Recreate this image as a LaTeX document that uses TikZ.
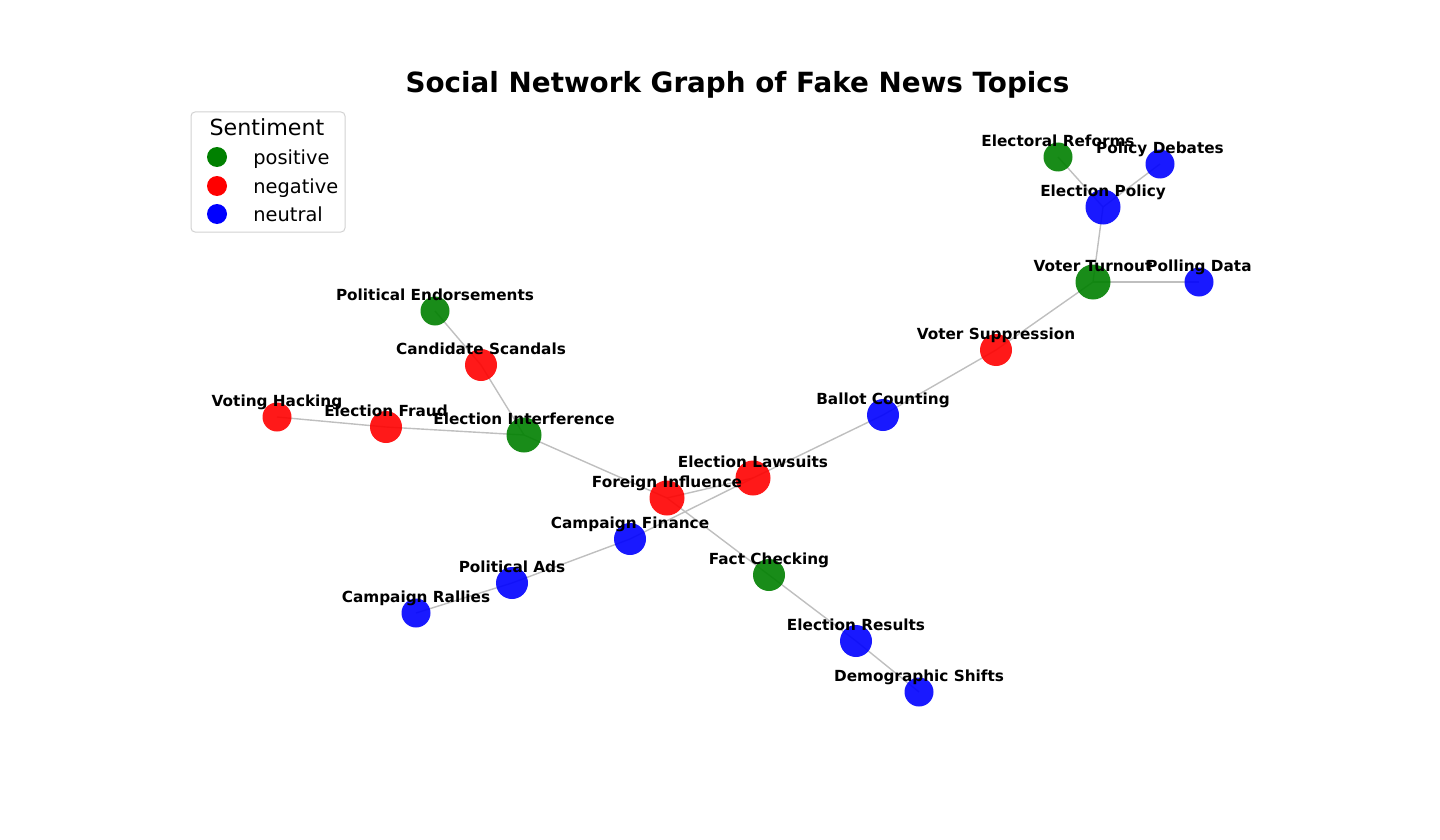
\documentclass[tikz,border=0pt]{standalone}
\usepackage{fontspec}
\setmainfont{DejaVu Sans}
\usetikzlibrary{backgrounds,calc}
\definecolor{pos}{RGB}{0,128,0}
\definecolor{neg}{RGB}{255,0,0}
\definecolor{neu}{RGB}{0,0,255}
\definecolor{edgegray}{RGB}{191,191,191}
\definecolor{legframe}{RGB}{210,210,210}
\tikzset{
  topic/.style={circle, inner sep=0pt, draw=none, fill opacity=0.9},
  posn/.style={topic, fill=pos},
  negn/.style={topic, fill=neg},
  neun/.style={topic, fill=neu},
  dega/.style={minimum size=14.5pt},
  degb/.style={minimum size=16pt},
  degc/.style={minimum size=17.5pt},
  lbl/.style={anchor=base, inner sep=0pt, font=\fontsize{7.64}{9}\selectfont\bfseries},
  link/.style={draw=edgegray, line width=0.7pt},
  legmark/.style={circle, inner sep=0pt, minimum size=10pt, draw=none},
  legtext/.style={anchor=base west, inner sep=0pt, font=\fontsize{9.7}{12}\selectfont},
}
\begin{document}
\begin{tikzpicture}[x=0.5pt, y=-0.5pt]
\path[use as bounding box] (0,0) rectangle (1440,840);

% title
\node[anchor=base, inner sep=0pt, font=\fontsize{13.9}{16}\selectfont\bfseries] (title) at (737.5,92.5) {Social Network Graph of Fake News Topics};

% topic nodes
\node[posn, dega] (ER) at (1058,157) {};
\node[neun, dega] (PD) at (1160,164) {};
\node[neun, degc] (EP) at (1103,207) {};
\node[posn, degc] (VT) at (1093,282) {};
\node[neun, dega] (PO) at (1199,282) {};
\node[negn, degb] (VS) at (996,350) {};
\node[neun, degb] (BC) at (883,415) {};
\node[posn, dega] (PE) at (435,311) {};
\node[negn, degb] (CS) at (481,365) {};
\node[negn, dega] (VH) at (277,417) {};
\node[negn, degb] (EF) at (386,427) {};
\node[posn, degc] (EI) at (524,435) {};
\node[negn, degc] (EL) at (753,478) {};
\node[negn, degc] (FI) at (667,498) {};
\node[neun, degb] (CF) at (630,539) {};
\node[neun, degb] (PA) at (512,583) {};
\node[neun, dega] (CR) at (416,613) {};
\node[posn, degb] (FC) at (769,575) {};
\node[neun, degb] (RE) at (856,641) {};
\node[neun, dega] (DS) at (919,692) {};

% edges
\begin{scope}[on background layer]
\draw[link] (ER.center) -- (EP.center);
\draw[link] (PD.center) -- (EP.center);
\draw[link] (EP.center) -- (VT.center);
\draw[link] (VT.center) -- (PO.center);
\draw[link] (VT.center) -- (VS.center);
\draw[link] (VS.center) -- (BC.center);
\draw[link] (BC.center) -- (EL.center);
\draw[link] (EL.center) -- (FI.center);
\draw[link] (EL.center) -- (CF.center);
\draw[link] (FI.center) -- (EI.center);
\draw[link] (FI.center) -- (FC.center);
\draw[link] (FC.center) -- (RE.center);
\draw[link] (RE.center) -- (DS.center);
\draw[link] (CF.center) -- (PA.center);
\draw[link] (PA.center) -- (CR.center);
\draw[link] (EI.center) -- (EF.center);
\draw[link] (EF.center) -- (VH.center);
\draw[link] (EI.center) -- (CS.center);
\draw[link] (CS.center) -- (PE.center);
\end{scope}

% labels
\node[lbl] (lER) at ($(ER)+(0,-10.5)$) {Electoral Reforms};
\node[lbl] (lPD) at ($(PD)+(0,-10.5)$) {Policy Debates};
\node[lbl] (lEP) at ($(EP)+(0,-10.5)$) {Election Policy};
\node[lbl] (lVT) at ($(VT)+(0,-10.5)$) {Voter Turnout};
\node[lbl] (lPO) at ($(PO)+(0,-10.5)$) {Polling Data};
\node[lbl] (lVS) at ($(VS)+(0,-10.5)$) {Voter Suppression};
\node[lbl] (lBC) at ($(BC)+(0,-10.5)$) {Ballot Counting};
\node[lbl] (lPE) at ($(PE)+(0,-10.5)$) {Political Endorsements};
\node[lbl] (lCS) at ($(CS)+(0,-10.5)$) {Candidate Scandals};
\node[lbl] (lVH) at ($(VH)+(0,-10.5)$) {Voting Hacking};
\node[lbl] (lEF) at ($(EF)+(0,-10.5)$) {Election Fraud};
\node[lbl] (lEI) at ($(EI)+(0,-10.5)$) {Election Interference};
\node[lbl] (lEL) at ($(EL)+(0,-10.5)$) {Election Lawsuits};
\node[lbl] (lFI) at ($(FI)+(0,-10.5)$) {Foreign Influence};
\node[lbl] (lCF) at ($(CF)+(0,-10.5)$) {Campaign Finance};
\node[lbl] (lPA) at ($(PA)+(0,-10.5)$) {Political Ads};
\node[lbl] (lCR) at ($(CR)+(0,-10.5)$) {Campaign Rallies};
\node[lbl] (lFC) at ($(FC)+(0,-10.5)$) {Fact Checking};
\node[lbl] (lRE) at ($(RE)+(0,-10.5)$) {Election Results};
\node[lbl] (lDS) at ($(DS)+(0,-10.5)$) {Demographic Shifts};

% legend
\node[draw=legframe, line width=0.5pt, rounded corners=2pt, fill=white, minimum width=77pt, minimum height=60pt, inner sep=0pt] (legend) at (268,172) {};
\node[anchor=base, inner sep=0pt, font=\fontsize{11.1}{13}\selectfont] (legtitle) at (267,135) {Sentiment};
\node[legmark, fill=pos] (mpos) at (217,157) {};
\node[legmark, fill=neg] (mneg) at (217,186) {};
\node[legmark, fill=neu] (mneu) at (217,214) {};
\node[legtext] (tpos) at (253,164) {positive};
\node[legtext] (tneg) at (253,193) {negative};
\node[legtext] (tneu) at (253,221) {neutral};
\end{tikzpicture}
\end{document}
